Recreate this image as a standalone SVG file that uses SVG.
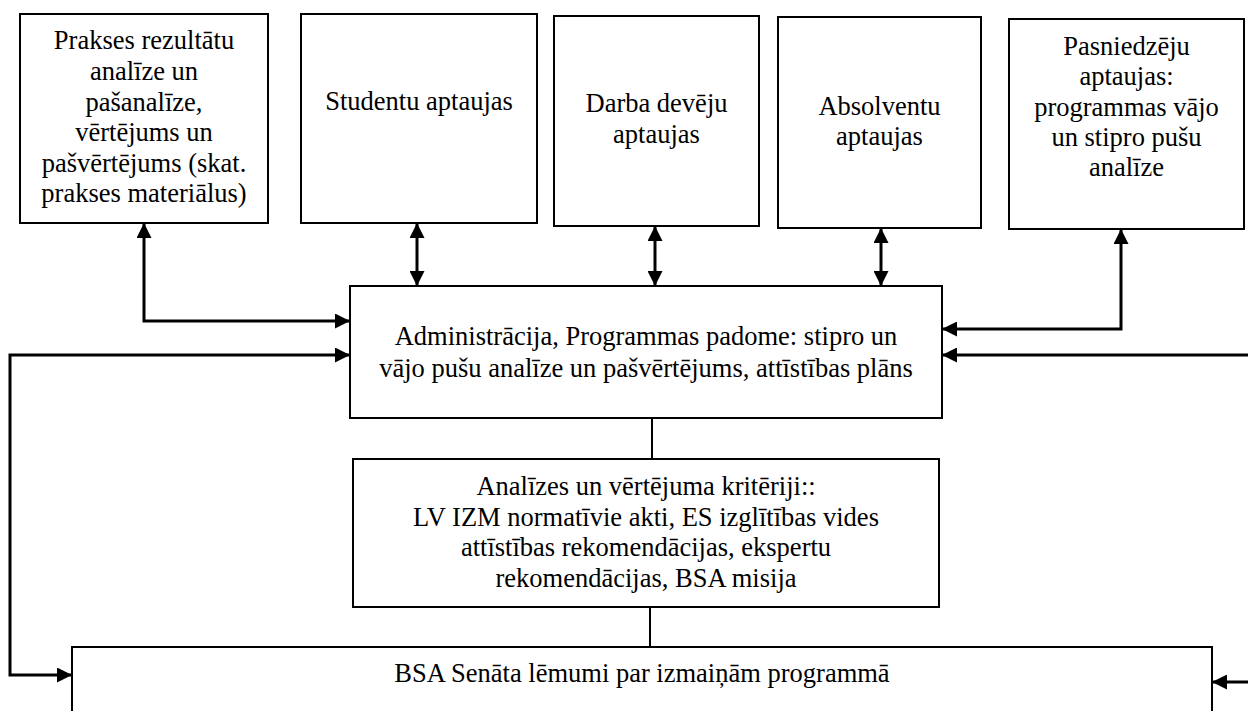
<svg xmlns="http://www.w3.org/2000/svg" width="1248" height="711" viewBox="0 0 1248 711">
<style>
.box{fill:#fff;stroke:#000;stroke-width:2}
.t{font-family:"Liberation Serif","Times New Roman",serif;font-size:26.5px;fill:#000;text-anchor:middle}
.c{fill:none;stroke:#000;stroke-width:3}
.ln{fill:none;stroke:#000;stroke-width:2}
</style>
<defs>
<marker id="ah" markerUnits="userSpaceOnUse" markerWidth="15" markerHeight="15" refX="14" refY="7.5" orient="auto-start-reverse">
<path d="M0,0 L15,7.5 L0,15 z" fill="#000"/>
</marker>
</defs>
<rect width="1248" height="711" fill="#fff"/>
<g id="connectors">
<path class="c" d="M144,224 V321 H349" marker-start="url(#ah)" marker-end="url(#ah)"/>
<path class="c" d="M417,224 V285" marker-start="url(#ah)" marker-end="url(#ah)"/>
<path class="c" d="M655,227 V285" marker-start="url(#ah)" marker-end="url(#ah)"/>
<path class="c" d="M881,229 V285" marker-start="url(#ah)" marker-end="url(#ah)"/>
<path class="c" d="M1121,230 V329 H943" marker-start="url(#ah)" marker-end="url(#ah)"/>
<path class="c" d="M349,355 H10 V675 H71" marker-start="url(#ah)" marker-end="url(#ah)"/>
<path class="c" d="M1248,355 H943" marker-end="url(#ah)"/>
<path class="c" d="M1248,682 H1213" marker-end="url(#ah)"/>
<path class="ln" d="M652,418 V459"/>
<path class="ln" d="M650,607 V647"/>
</g>
<g id="n1">
<rect class="box" x="20" y="14" width="248" height="209"/>
<text class="t"><tspan x="144" y="49">Prakses rezultātu</tspan><tspan x="144" y="80">analīze un</tspan><tspan x="144" y="111">pašanalīze,</tspan><tspan x="144" y="141">vērtējums un</tspan><tspan x="144" y="172">pašvērtējums (skat.</tspan><tspan x="144" y="202">prakses materiālus)</tspan></text>
</g>
<g id="n2">
<rect class="box" x="301" y="14" width="236" height="209"/>
<text class="t" x="419" y="110">Studentu aptaujas</text>
</g>
<g id="n3">
<rect class="box" x="554" y="16" width="205" height="210"/>
<text class="t"><tspan x="656.5" y="112">Darba devēju</tspan><tspan x="656.5" y="143">aptaujas</tspan></text>
</g>
<g id="n4">
<rect class="box" x="778" y="17" width="203" height="211"/>
<text class="t"><tspan x="879.5" y="115">Absolventu</tspan><tspan x="879.5" y="145">aptaujas</tspan></text>
</g>
<g id="n5">
<rect class="box" x="1009" y="19" width="235" height="210"/>
<text class="t"><tspan x="1126.5" y="55">Pasniedzēju</tspan><tspan x="1126.5" y="85">aptaujas:</tspan><tspan x="1126.5" y="116">programmas vājo</tspan><tspan x="1126.5" y="146">un stipro pušu</tspan><tspan x="1126.5" y="176">analīze</tspan></text>
</g>
<g id="main">
<rect class="box" x="350" y="286" width="592" height="132"/>
<text class="t"><tspan x="646" y="345">Administrācija, Programmas padome: stipro un</tspan><tspan x="646" y="377">vājo pušu analīze un pašvērtējums, attīstības plāns</tspan></text>
</g>
<g id="criteria">
<rect class="box" x="353" y="459" width="586" height="148"/>
<text class="t"><tspan x="646" y="495">Analīzes un vērtējuma kritēriji::</tspan><tspan x="646" y="526">LV IZM normatīvie akti, ES izglītības vides</tspan><tspan x="646" y="556">attīstības rekomendācijas, ekspertu</tspan><tspan x="646" y="587">rekomendācijas, BSA misija</tspan></text>
</g>
<g id="senate">
<rect class="box" x="72" y="647" width="1140" height="80"/>
<text class="t" x="642" y="682">BSA Senāta lēmumi par izmaiņām programmā</text>
</g>
</svg>
